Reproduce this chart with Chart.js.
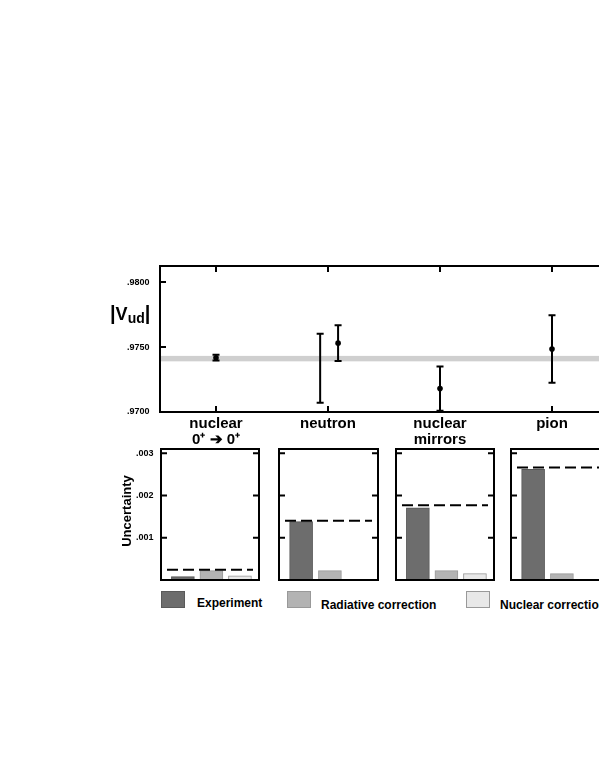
<!DOCTYPE html>
<html>
<head>
<meta charset="utf-8">
<script src="https://cdn.jsdelivr.net/npm/chart.js@4.4.0/dist/chart.umd.min.js"></script>
<style>
html, body { margin: 0; padding: 0; background: #fff; overflow: hidden; width: 599px; height: 776px; }
body { position: relative; font-family: "Liberation Sans", Arial, sans-serif; font-weight: bold; color: #000; }
canvas { position: absolute; }
.lbl { position: absolute; white-space: nowrap; }
.sq { position: absolute; width: 24px; height: 17px; box-sizing: border-box; }
</style>
</head>
<body>
<canvas id="top" width="620" height="210" style="left:0;top:250px"></canvas>

<div class="lbl" style="left:110px;top:301px;line-height:24px">
  <span style="font-size:20px">|</span><span style="font-size:18px">V</span><span style="font-size:14px;position:relative;top:3px">ud</span><span style="font-size:20px">|</span>
</div>
<div class="lbl" style="left:126px;top:511px;font-size:13px;transform:translate(-50%,-50%) rotate(-90deg)">Uncertainty</div>

<div class="sq" style="left:161px;top:591px;background:#6d6d6d;border:1px solid #5a5a5a"></div>
<div class="lbl" style="left:197px;top:596px;font-size:12px">Experiment</div>
<div class="sq" style="left:287px;top:591px;background:#b3b3b3;border:1px solid #999"></div>
<div class="lbl" style="left:321px;top:598px;font-size:12px">Radiative correction</div>
<div class="sq" style="left:466px;top:591px;background:#e8e8e8;border:1px solid #999"></div>
<div class="lbl" style="left:500px;top:598px;font-size:12px">Nuclear correction</div>

<script>
// --- top panel: |Vud| by method ---
const categories = [['nuclear', '0\u207A \u2794 0\u207A'], 'neutron', ['nuclear', 'mirrors'], 'pion'];
const vudX = [0, 0.93, 1.09, 2, 3];          // neutron has two measurements side by side
const vudValues = [0.97418, 0.97337, 0.97530, 0.97180, 0.97485];
const vudErrors = [0.00022, 0.00265, 0.00137, 0.00170, 0.00260];
const vudBand = [0.97390, 0.97432];          // average band
const vudTicks = [0.9700, 0.9750, 0.9800];

// --- bottom panels: uncertainty budget ---
const sources = ['Experiment', 'Radiative correction', 'Nuclear correction'];
const experimentErr = [0.00008, 0.00138, 0.00171, 0.00262];
const radiativeErr = [0.00022, 0.00022, 0.00022, 0.00015];
const nuclearErr = [0.00010, 0, 0.00015, 0];
const totalErr = [0.00024, 0.00140, 0.00177, 0.00266];
const uncTicks = [0.001, 0.002, 0.003];

const sourceColors = ['#6d6d6d', '#b3b3b3', '#e8e8e8'];
const sourceBorders = ['#555555', '#999999', '#999999'];

Chart.defaults.font.family = '"Liberation Sans", Arial, sans-serif';
Chart.defaults.color = '#000';

// frame + inward ticks
function drawFrame(chart, xTicks, yTicks, len) {
    const { ctx, chartArea: a, scales: { x, y } } = chart;
    ctx.save();
    ctx.strokeStyle = '#000';
    ctx.lineWidth = 2;
    ctx.strokeRect(a.left, a.top, a.right - a.left, a.bottom - a.top);
    ctx.beginPath();
    yTicks.forEach(v => {
        const py = y.getPixelForValue(v);
        ctx.moveTo(a.left, py); ctx.lineTo(a.left + len, py);
        ctx.moveTo(a.right, py); ctx.lineTo(a.right - len, py);
    });
    xTicks.forEach(v => {
        const px = x.getPixelForValue(v);
        ctx.moveTo(px, a.top); ctx.lineTo(px, a.top + len);
        ctx.moveTo(px, a.bottom); ctx.lineTo(px, a.bottom - len);
    });
    ctx.stroke();
    ctx.restore();
}

const vudDecor = {
    id: 'vudDecor',
    beforeDatasetsDraw(chart) {
        const { ctx, chartArea: a, scales: { x, y } } = chart;
        ctx.save();
        // average band
        const y1 = y.getPixelForValue(vudBand[1]);
        const y0 = y.getPixelForValue(vudBand[0]);
        ctx.fillStyle = '#cfcfcf';
        ctx.fillRect(a.left, y1, a.right - a.left, y0 - y1);
        // error bars
        ctx.beginPath();
        ctx.rect(a.left, a.top, a.right - a.left, a.bottom - a.top);
        ctx.clip();
        ctx.strokeStyle = '#000';
        ctx.lineWidth = 2;
        ctx.beginPath();
        vudX.forEach((xv, i) => {
            const px = x.getPixelForValue(xv);
            const top = y.getPixelForValue(vudValues[i] + vudErrors[i]);
            const bot = y.getPixelForValue(vudValues[i] - vudErrors[i]);
            ctx.moveTo(px, top); ctx.lineTo(px, bot);
            ctx.moveTo(px - 3.5, top); ctx.lineTo(px + 3.5, top);
            ctx.moveTo(px - 3.5, bot); ctx.lineTo(px + 3.5, bot);
        });
        ctx.stroke();
        ctx.restore();
    },
    afterDraw(chart) {
        drawFrame(chart, categories.map((c, i) => i), vudTicks, 6);
    }
};

new Chart(document.getElementById('top'), {
    type: 'scatter',
    data: {
        datasets: [{
            data: vudX.map((xv, i) => ({ x: xv, y: vudValues[i] })),
            pointRadius: ctx => ctx.dataIndex === 1 ? 0 : 2.8,
            pointBackgroundColor: '#000',
            pointBorderWidth: 0
        }]
    },
    options: {
        responsive: false,
        animation: false,
        layout: { padding: { left: 100, right: 12, top: 16, bottom: 0 } },
        plugins: { legend: { display: false }, tooltip: { enabled: false } },
        scales: {
            x: {
                type: 'linear', min: -0.5, max: 3.5,
                grid: { display: false, drawTicks: false },
                border: { display: false },
                afterBuildTicks: s => { s.ticks = categories.map((c, i) => ({ value: i })); },
                afterFit: s => { s.height = 48; },
                ticks: {
                    autoSkip: false, maxRotation: 0, padding: 4,
                    font: { size: 15, weight: 'bold', lineHeight: 1.08 },
                    callback: (v, i) => categories[i]
                }
            },
            y: {
                min: vudTicks[0], max: 0.98124,
                grid: { display: false, drawTicks: false },
                border: { display: false },
                afterBuildTicks: s => { s.ticks = vudTicks.map(v => ({ value: v })); },
                afterFit: s => { s.width = 60; },
                ticks: {
                    padding: 10.6,
                    font: { size: 9, weight: 'bold' },
                    callback: v => v.toFixed(4).replace(/^0/, '')
                }
            }
        }
    },
    plugins: [vudDecor]
});

// bottom panels
const panelLeft = [161, 279, 396, 511];
const panelWidth = [98, 99, 98, 99];

const totalLine = {
    id: 'totalLine',
    afterDatasetsDraw(chart, args, opts) {
        const { ctx, chartArea: a, scales: { y } } = chart;
        const py = y.getPixelForValue(totalErr[opts.panel]);
        ctx.save();
        ctx.strokeStyle = '#000';
        ctx.lineWidth = 2;
        ctx.setLineDash([11, 5]);
        ctx.beginPath();
        ctx.moveTo(a.left + 6, py);
        ctx.lineTo(a.right - 6, py);
        ctx.stroke();
        ctx.restore();
    },
    afterDraw(chart) {
        drawFrame(chart, [], uncTicks, 6);
    }
};

// y labels pad the chart area by half a label + tick padding (13px)
panelLeft.forEach((left, p) => {
    const cv = document.createElement('canvas');
    cv.width = 50 + panelWidth[p] + 6;
    cv.height = 157;
    cv.style.left = (left - 50) + 'px';
    cv.style.top = '436px';
    document.body.appendChild(cv);
    const vals = [experimentErr[p], radiativeErr[p], nuclearErr[p]];
    new Chart(cv, {
        type: 'bar',
        data: {
            datasets: [{
                data: sources.map((s, i) => ({ x: i, y: vals[i] })),
                backgroundColor: sourceColors,
                borderColor: sourceBorders,
                borderWidth: 1,
                barThickness: 23
            }]
        },
        options: {
            responsive: false,
            animation: false,
            layout: { padding: { left: 0, right: 6, top: 0, bottom: 0 } },
            plugins: { legend: { display: false }, tooltip: { enabled: false }, totalLine: { panel: p } },
            scales: {
                x: {
                    type: 'linear', min: -0.767, max: 2.668, offset: false,
                    grid: { display: false, drawTicks: false },
                    border: { display: false },
                    ticks: { display: false },
                    afterBuildTicks: s => { s.ticks = sources.map((c, i) => ({ value: i })); },
                    afterFit: s => { s.height = 0; }
                },
                y: {
                    min: 0, max: 0.0031,
                    grid: { display: false, drawTicks: false },
                    border: { display: false },
                    afterBuildTicks: s => { s.ticks = uncTicks.map(v => ({ value: v })); },
                    afterFit: s => { s.width = 50; },
                    ticks: {
                        color: p === 0 ? '#000' : 'rgba(0,0,0,0)',
                        padding: 7.6,
                        font: { size: 9, weight: 'bold' },
                        callback: v => v.toFixed(3).replace(/^0/, '')
                    }
                }
            }
        },
        plugins: [totalLine]
    });
});
</script>
</body>
</html>
